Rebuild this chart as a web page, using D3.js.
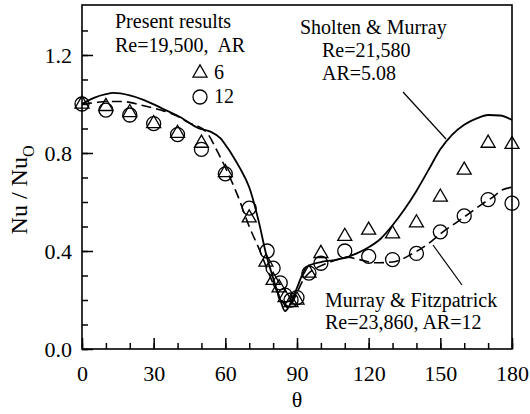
<!DOCTYPE html>
<html>
<head>
<meta charset="utf-8">
<script src="https://cdn.jsdelivr.net/npm/d3@7"></script>
<style>
  body { margin: 0; background: #fff; }
  svg text { font-family: "Liberation Serif", "Times New Roman", serif !important; fill: #000; }
</style>
</head>
<body>
<div id="chart"></div>
<script>
// present results, AR = 6 (triangles)
var triTheta = [0, 10, 20, 30, 40, 50, 60, 70, 77, 80, 82.5, 85, 87.5, 90, 95, 100, 110, 120, 130, 140, 150, 160, 170, 180];
var triNu = [1.0, 0.99, 0.965, 0.92, 0.88, 0.84, 0.72, 0.535, 0.355, 0.28, 0.25, 0.21, 0.19, 0.2, 0.31, 0.39, 0.46, 0.485, 0.47, 0.515, 0.62, 0.73, 0.84, 0.835];
// present results, AR = 12 (circles)
var cirTheta = [0, 10, 20, 30, 40, 50, 60, 70, 77.5, 80, 83, 85, 87.5, 90, 95, 100, 110, 120, 130, 140, 150, 160, 170, 180];
var cirNu = [1.0, 0.975, 0.955, 0.92, 0.875, 0.815, 0.715, 0.575, 0.4, 0.33, 0.27, 0.22, 0.2, 0.21, 0.31, 0.35, 0.4, 0.378, 0.365, 0.39, 0.478, 0.543, 0.61, 0.595];
// Sholten & Murray (solid)
var smTheta = [0, 5, 10, 13, 20, 26, 35, 41, 49, 54, 58, 61, 63, 66, 70, 74, 77, 80, 83, 85, 87, 90, 94, 100, 105, 110, 115, 120, 125, 130, 135, 140, 145, 150, 155, 160, 165, 170, 175, 180];
var smNu = [1.0, 1.025, 1.04, 1.045, 1.035, 1.016, 0.975, 0.947, 0.9, 0.886, 0.86, 0.82, 0.79, 0.74, 0.66, 0.52, 0.39, 0.29, 0.2, 0.155, 0.18, 0.25, 0.335, 0.355, 0.362, 0.372, 0.39, 0.415, 0.45, 0.505, 0.57, 0.645, 0.73, 0.815, 0.875, 0.915, 0.94, 0.955, 0.953, 0.935];
// Murray & Fitzpatrick (dashed)
var mfTheta = [0, 5, 10, 17, 25, 33, 40, 44, 52, 57, 61, 65, 70, 74.5, 79, 83, 86, 88, 90, 92.5, 95, 98, 102.5, 107, 111, 116, 123, 130, 138.5, 145, 150, 158, 163, 168, 172, 176, 180];
var mfNu = [1.0, 1.005, 1.01, 1.01, 0.995, 0.975, 0.95, 0.927, 0.886, 0.8, 0.72, 0.63, 0.5, 0.4, 0.29, 0.21, 0.17, 0.19, 0.23, 0.28, 0.31, 0.33, 0.35, 0.365, 0.375, 0.365, 0.352, 0.355, 0.39, 0.43, 0.47, 0.525, 0.56, 0.595, 0.62, 0.65, 0.66];

var xTicks = [0, 30, 60, 90, 120, 150, 180];
var yTicks = [0.0, 0.4, 0.8, 1.2];

var W = 530, H = 414;
var margin = {top: 5, right: 18, bottom: 65, left: 82};
var chart_w = W - margin.left - margin.right;
var chart_h = H - margin.top - margin.bottom;

var svg = d3.select("#chart").append("svg")
    .attr("width", W).attr("height", H);
var g = svg.append("g")
    .attr("transform", "translate(" + margin.left + "," + margin.top + ")");

var x = d3.scaleLinear().domain([0, 180]).range([0, chart_w]);
var y = d3.scaleLinear().domain([0, 1.404]).range([chart_h, 0]);

// frame
g.append("rect")
    .attr("width", chart_w).attr("height", chart_h)
    .attr("fill", "none").attr("stroke", "#000").attr("stroke-width", 1.6);

// inward ticks: minor then major
g.append("g").attr("transform", "translate(0," + chart_h + ")")
    .call(d3.axisBottom(x).tickValues(d3.range(0, 181, 10)).tickSize(-6).tickFormat(""))
    .call(function(a) { a.select(".domain").remove(); a.selectAll("line").attr("stroke-width", 1.5); });
g.append("g").attr("transform", "translate(0," + chart_h + ")")
    .call(d3.axisBottom(x).tickValues(xTicks).tickSize(-11).tickPadding(16).tickFormat(d3.format("d")))
    .call(function(a) {
        a.select(".domain").remove();
        a.selectAll("line").attr("stroke-width", 1.5);
        a.selectAll("text").attr("font-size", 22);
    });
g.append("g")
    .call(d3.axisLeft(y).tickValues(d3.range(0, 14).map(function(i) { return i / 10; })).tickSize(-6).tickFormat(""))
    .call(function(a) { a.select(".domain").remove(); a.selectAll("line").attr("stroke-width", 1.5); });
g.append("g")
    .call(d3.axisLeft(y).tickValues(yTicks).tickSize(-11).tickPadding(10).tickFormat(d3.format(".1f")))
    .call(function(a) {
        a.select(".domain").remove();
        a.selectAll("line").attr("stroke-width", 1.5);
        a.selectAll("text").attr("font-size", 22);
    });

// axis titles
svg.append("text")
    .attr("x", margin.left + chart_w / 2).attr("y", 407)
    .attr("text-anchor", "middle").attr("font-size", 22).text("θ");
var yt = svg.append("text")
    .attr("transform", "translate(27,190) rotate(-90)")
    .attr("text-anchor", "middle").attr("font-size", 24);
yt.append("tspan").text("Nu / Nu");
yt.append("tspan").attr("font-size", 16).attr("dy", 7).text("O");

// curves
var line = d3.line()
    .x(function(d) { return x(d[0]); })
    .y(function(d) { return y(d[1]); })
    .curve(d3.curveMonotoneX);

g.append("path")
    .datum(d3.zip(smTheta, smNu))
    .attr("d", line).attr("fill", "none")
    .attr("stroke", "#000").attr("stroke-width", 1.8);
g.append("path")
    .datum(d3.zip(mfTheta, mfNu))
    .attr("d", line).attr("fill", "none")
    .attr("stroke", "#000").attr("stroke-width", 1.6)
    .attr("stroke-dasharray", "10,5");

// markers
var tri = d3.symbol().type(d3.symbolTriangle).size(85);
g.append("g").selectAll("circle")
    .data(d3.zip(cirTheta, cirNu))
    .enter().append("circle")
    .attr("cx", function(d) { return x(d[0]); })
    .attr("cy", function(d) { return y(d[1]); })
    .attr("r", 7)
    .attr("fill", "none").attr("stroke", "#000").attr("stroke-width", 1.3);
g.append("g").selectAll("path")
    .data(d3.zip(triTheta, triNu))
    .enter().append("path")
    .attr("d", tri)
    .attr("transform", function(d) { return "translate(" + x(d[0]) + "," + y(d[1]) + ")"; })
    .attr("fill", "none").attr("stroke", "#000").attr("stroke-width", 1.3);

// legend / annotations
var fs = 20;
svg.append("text").attr("x", 115).attr("y", 28).attr("font-size", fs).text("Present results");
svg.append("text").attr("x", 115).attr("y", 52).attr("font-size", fs).attr("xml:space", "preserve").text("Re=19,500,  AR");
svg.append("path").attr("d", tri).attr("transform", "translate(200,73)")
    .attr("fill", "none").attr("stroke", "#000").attr("stroke-width", 1.3);
svg.append("text").attr("x", 214).attr("y", 79).attr("font-size", fs).text("6");
svg.append("circle").attr("cx", 200).attr("cy", 97).attr("r", 7)
    .attr("fill", "none").attr("stroke", "#000").attr("stroke-width", 1.3);
svg.append("text").attr("x", 214).attr("y", 103).attr("font-size", fs).text("12");

svg.append("text").attr("x", 300).attr("y", 34).attr("font-size", fs).text("Sholten & Murray");
svg.append("text").attr("x", 322).attr("y", 57).attr("font-size", fs).text("Re=21,580");
svg.append("text").attr("x", 322).attr("y", 80).attr("font-size", fs).text("AR=5.08");
svg.append("line").attr("x1", 403).attr("y1", 92).attr("x2", 446).attr("y2", 139)
    .attr("stroke", "#000").attr("stroke-width", 1.2);

svg.append("text").attr("x", 325).attr("y", 307).attr("font-size", fs).text("Murray & Fitzpatrick");
svg.append("text").attr("x", 325).attr("y", 329).attr("font-size", fs).text("Re=23,860, AR=12");
svg.append("line").attr("x1", 433).attr("y1", 245).attr("x2", 462).attr("y2", 285)
    .attr("stroke", "#000").attr("stroke-width", 1.2);
</script>
</body>
</html>
